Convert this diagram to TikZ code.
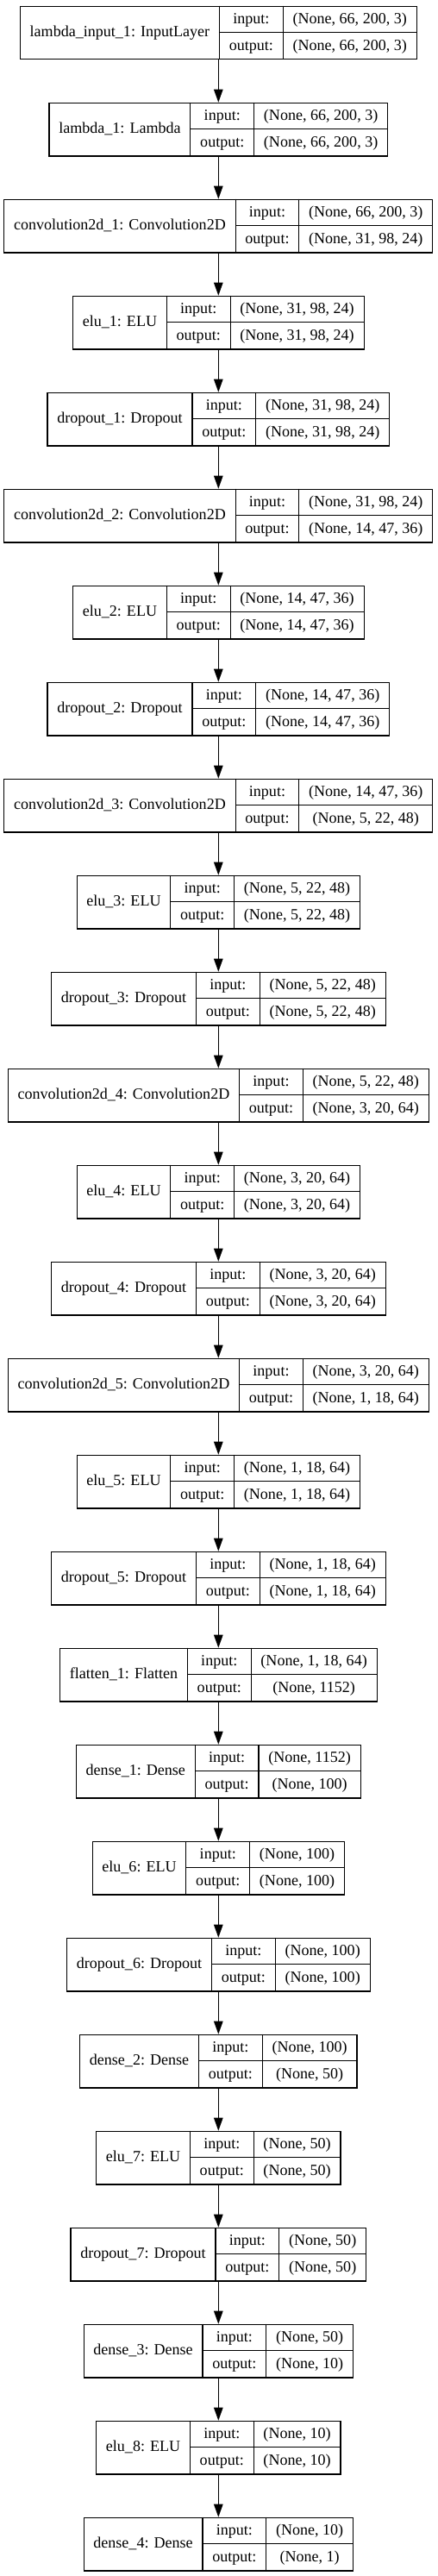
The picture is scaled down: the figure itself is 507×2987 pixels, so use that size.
\documentclass[tikz,border=0pt]{standalone}
\usepackage{fontspec}
\setmainfont{Liberation Serif}
\usetikzlibrary{arrows.meta}
\newlength\wa \newlength\wb \newlength\wc \newlength\wtmp
\newcommand\fsz{\fontsize{18.05pt}{20pt}\selectfont}
\tikzset{
  layerbox/.style={draw=black, line width=1.1pt, inner sep=0pt, minimum height=61.7pt},
  divider/.style={draw=black, line width=1.1pt},
  celltext/.style={inner sep=0pt, anchor=base, font=\fsz},
  flow/.style={draw=black, line width=1.1pt, -{Triangle[length=15pt,width=10.5pt]}},
}
\makeatletter
\newcommand\deflayer[4]{%
  \expandafter\gdef\csname lname#1\endcsname{#2}%
  \expandafter\gdef\csname lin#1\endcsname{#3}%
  \expandafter\gdef\csname lout#1\endcsname{#4}%
  \settowidth\wa{\fsz #2}%
  \settowidth\wc{\fsz #3}%
  \settowidth\wtmp{\fsz #4}%
  \ifdim\wtmp>\wc \wc=\wtmp\fi
  \expandafter\xdef\csname lwa#1\endcsname{\strip@pt\wa}%
  \expandafter\xdef\csname lwc#1\endcsname{\strip@pt\wc}%
}
\newcommand\measurebase{\settowidth\wb{\fsz output:}\xdef\lwb{\strip@pt\wb}}
\makeatother
\newcommand\drawlayer[1]{%
  \pgfmathsetmacro\cA{\csname lwa#1\endcsname+22.6}%
  \pgfmathsetmacro\cB{\lwb+22.6}%
  \pgfmathsetmacro\cC{\csname lwc#1\endcsname+22.6}%
  \pgfmathsetmacro\W{\cA+\cB+\cC}%
  \pgfmathsetmacro\xl{253.3-\W/2}%
  \pgfmathsetmacro\xa{\xl+\cA}%
  \pgfmathsetmacro\xb{\xa+\cB}%
  \pgfmathsetmacro\xr{\xl+\W}%
  \pgfmathsetmacro\yt{-6.7-#1*112}%
  \pgfmathsetmacro\yb{\yt-61.7}%
  \pgfmathsetmacro\ym{\yt-30.85}%
  \pgfmathsetmacro\xn{\xl+\cA/2}%
  \pgfmathsetmacro\xq{\xa+\cB/2}%
  \pgfmathsetmacro\xv{\xb+\cC/2}%
  \node[layerbox, minimum width=\W pt, anchor=north] (L#1) at (253.3pt,\yt pt) {};
  \draw[divider] (\xa pt,\yt pt) -- (\xa pt,\yb pt);
  \draw[divider] (\xb pt,\yt pt) -- (\xb pt,\yb pt);
  \draw[divider] (\xa pt,\ym pt) -- (\xr pt,\ym pt);
  \node[celltext] (N#1) at (\xn pt,\yt pt-36.2pt) {\csname lname#1\endcsname};
  \node[celltext] (I#1) at (\xq pt,\yt pt-20.8pt) {input:};
  \node[celltext] (O#1) at (\xq pt,\yt pt-51.6pt) {output:};
  \node[celltext] (VI#1) at (\xv pt,\yt pt-20.8pt) {\csname lin#1\endcsname};
  \node[celltext] (VO#1) at (\xv pt,\yt pt-51.6pt) {\csname lout#1\endcsname};
}
\begin{document}
\measurebase%
\deflayer{0}{lambda\_input\_1: InputLayer}{(None, 66, 200, 3)}{(None, 66, 200, 3)}%
\deflayer{1}{lambda\_1: Lambda}{(None, 66, 200, 3)}{(None, 66, 200, 3)}%
\deflayer{2}{convolution2d\_1: Convolution2D}{(None, 66, 200, 3)}{(None, 31, 98, 24)}%
\deflayer{3}{elu\_1: ELU}{(None, 31, 98, 24)}{(None, 31, 98, 24)}%
\deflayer{4}{dropout\_1: Dropout}{(None, 31, 98, 24)}{(None, 31, 98, 24)}%
\deflayer{5}{convolution2d\_2: Convolution2D}{(None, 31, 98, 24)}{(None, 14, 47, 36)}%
\deflayer{6}{elu\_2: ELU}{(None, 14, 47, 36)}{(None, 14, 47, 36)}%
\deflayer{7}{dropout\_2: Dropout}{(None, 14, 47, 36)}{(None, 14, 47, 36)}%
\deflayer{8}{convolution2d\_3: Convolution2D}{(None, 14, 47, 36)}{(None, 5, 22, 48)}%
\deflayer{9}{elu\_3: ELU}{(None, 5, 22, 48)}{(None, 5, 22, 48)}%
\deflayer{10}{dropout\_3: Dropout}{(None, 5, 22, 48)}{(None, 5, 22, 48)}%
\deflayer{11}{convolution2d\_4: Convolution2D}{(None, 5, 22, 48)}{(None, 3, 20, 64)}%
\deflayer{12}{elu\_4: ELU}{(None, 3, 20, 64)}{(None, 3, 20, 64)}%
\deflayer{13}{dropout\_4: Dropout}{(None, 3, 20, 64)}{(None, 3, 20, 64)}%
\deflayer{14}{convolution2d\_5: Convolution2D}{(None, 3, 20, 64)}{(None, 1, 18, 64)}%
\deflayer{15}{elu\_5: ELU}{(None, 1, 18, 64)}{(None, 1, 18, 64)}%
\deflayer{16}{dropout\_5: Dropout}{(None, 1, 18, 64)}{(None, 1, 18, 64)}%
\deflayer{17}{flatten\_1: Flatten}{(None, 1, 18, 64)}{(None, 1152)}%
\deflayer{18}{dense\_1: Dense}{(None, 1152)}{(None, 100)}%
\deflayer{19}{elu\_6: ELU}{(None, 100)}{(None, 100)}%
\deflayer{20}{dropout\_6: Dropout}{(None, 100)}{(None, 100)}%
\deflayer{21}{dense\_2: Dense}{(None, 100)}{(None, 50)}%
\deflayer{22}{elu\_7: ELU}{(None, 50)}{(None, 50)}%
\deflayer{23}{dropout\_7: Dropout}{(None, 50)}{(None, 50)}%
\deflayer{24}{dense\_3: Dense}{(None, 50)}{(None, 10)}%
\deflayer{25}{elu\_8: ELU}{(None, 10)}{(None, 10)}%
\deflayer{26}{dense\_4: Dense}{(None, 10)}{(None, 1)}%
\begin{tikzpicture}
\useasboundingbox (0,0) rectangle (507pt,-2987pt);
\fill[white] (0,0) rectangle (507pt,-2987pt);
\foreach \i in {0,...,26} {\drawlayer{\i}}
\foreach \i [evaluate=\i as \j using int(\i+1)] in {0,...,25} {
  \draw[flow] (L\i.south) -- (L\j.north);
}
\end{tikzpicture}
\end{document}
